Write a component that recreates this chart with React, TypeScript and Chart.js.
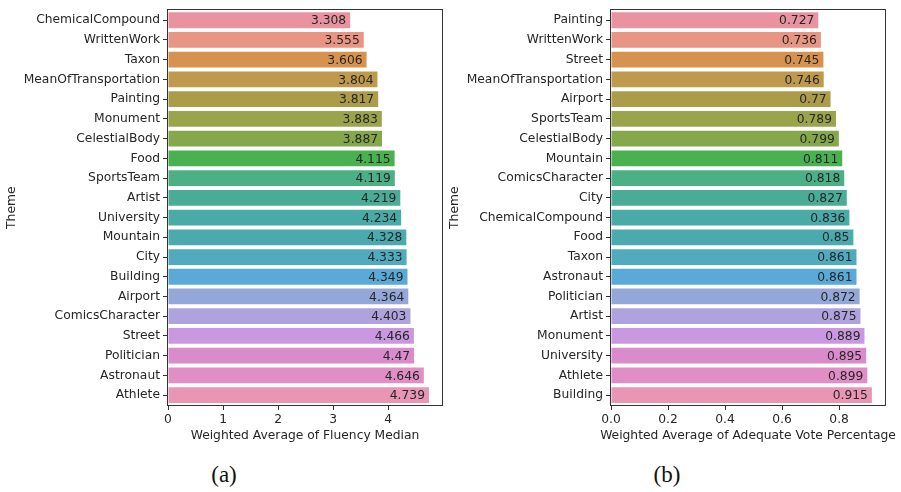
import React, { useEffect, useRef } from "react";
import { Chart, registerables } from "chart.js";

Chart.register(...registerables);

const fluencyThemes = [
  "ChemicalCompound", "WrittenWork", "Taxon", "MeanOfTransportation", "Painting",
  "Monument", "CelestialBody", "Food", "SportsTeam", "Artist",
  "University", "Mountain", "City", "Building", "Airport",
  "ComicsCharacter", "Street", "Politician", "Astronaut", "Athlete",
];
const fluencyValues = [
  3.308, 3.555, 3.606, 3.804, 3.817,
  3.883, 3.887, 4.115, 4.119, 4.219,
  4.234, 4.328, 4.333, 4.349, 4.364,
  4.403, 4.466, 4.47, 4.646, 4.739,
];
const adequateThemes = [
  "Painting", "WrittenWork", "Street", "MeanOfTransportation", "Airport",
  "SportsTeam", "CelestialBody", "Mountain", "ComicsCharacter", "City",
  "ChemicalCompound", "Food", "Taxon", "Astronaut", "Politician",
  "Artist", "Monument", "University", "Athlete", "Building",
];
const adequateValues = [
  0.727, 0.736, 0.745, 0.746, 0.77,
  0.789, 0.799, 0.811, 0.818, 0.827,
  0.836, 0.85, 0.861, 0.861, 0.872,
  0.875, 0.889, 0.895, 0.899, 0.915,
];
const fluencyTicks = [0, 1, 2, 3, 4];
const adequateTicks = [0, 0.2, 0.4, 0.6, 0.8];
const fluencyMax = 4.976;
const adequateMax = 0.961;

const barColors = [
  "#e8939f", "#e89683", "#d7934e", "#bf9a4d", "#ab9c4a",
  "#9aa44a", "#84a84b", "#4ab151", "#4bb085", "#4aab97",
  "#4aaaa5", "#4baaae", "#50abbf", "#5aa9d6", "#93a8d8",
  "#afa3dd", "#c998e0", "#d98bcc", "#e18ec6", "#e896b4",
];

const FONT = '"DejaVu Sans", sans-serif';
const FS = 12.3;
const TEXT = "#262626";

const framePlugin = {
  id: "frameAndLabels",
  afterDatasetsDraw(chart: any, _args: any, opts: any) {
    const { ctx, chartArea } = chart;
    const meta = chart.getDatasetMeta(0);
    const data = chart.data.datasets[0].data;
    ctx.save();
    ctx.font = `${FS}px ${FONT}`;
    ctx.fillStyle = TEXT;
    ctx.textAlign = "right";
    ctx.textBaseline = "middle";
    meta.data.forEach((bar: any, i: number) => {
      ctx.fillText(String(data[i]), bar.x - 4, bar.y + 1);
    });
    // x-axis title (drawn without width squeezing)
    ctx.textAlign = "center";
    ctx.fillText(opts.xTitle, (chartArea.left + chartArea.right) / 2, 436);
    ctx.strokeStyle = "#333333";
    ctx.lineWidth = 1;
    const l = Math.round(chartArea.left) - 0.5;
    const t = Math.round(chartArea.top) - 0.5;
    const r = Math.round(chartArea.right) + 0.5;
    const b = Math.round(chartArea.bottom) + 0.5;
    ctx.strokeRect(l, t, r - l, b - t);
    ctx.restore();
  },
};

function BarPanel(props: {
  labels: string[];
  values: number[];
  ticks: number[];
  max: number;
  decimals: number;
  xTitle: string;
  width: number;
  padRight: number;
}) {
  const ref = useRef<HTMLCanvasElement>(null);
  useEffect(() => {
    if (!ref.current) return;
    const chart = new Chart(ref.current, {
      type: "bar",
      data: {
        labels: props.labels,
        datasets: [
          {
            data: props.values,
            backgroundColor: barColors,
            borderWidth: 0,
            barPercentage: 0.8,
            categoryPercentage: 1.0,
          },
        ],
      },
      options: {
        indexAxis: "y",
        responsive: false,
        animation: false,
        events: [],
        layout: { padding: { left: 0, right: props.padRight, top: 6, bottom: 0 } },
        plugins: {
          legend: { display: false },
          tooltip: { enabled: false },
          frameAndLabels: { xTitle: props.xTitle },
        },
        scales: {
          x: {
            type: "linear",
            min: 0,
            max: props.max,
            afterBuildTicks: (scale: any) => {
              scale.ticks = props.ticks.map((v) => ({ value: v }));
            },
            afterFit: (scale: any) => {
              scale.height = 45;
            },
            border: { display: false },
            grid: {
              drawOnChartArea: false,
              drawTicks: true,
              tickLength: 5,
              color: "#333333",
            },
            ticks: {
              padding: 2,
              color: TEXT,
              font: { family: FONT, size: FS },
              maxRotation: 0,
              callback: (v: any) => Number(v).toFixed(props.decimals),
            },
            title: { display: false },
          },
          y: {
            type: "category",
            afterFit: (scale: any) => {
              scale.width = 168;
            },
            border: { display: false },
            grid: {
              offset: false,
              drawOnChartArea: false,
              drawTicks: true,
              tickLength: 5,
              color: "#333333",
            },
            ticks: {
              padding: 3,
              color: TEXT,
              font: { family: FONT, size: FS },
              autoSkip: false,
            },
            title: {
              display: true,
              text: "Theme",
              color: TEXT,
              font: { family: FONT, size: FS },
              padding: { top: 4, bottom: 0 },
            },
          },
        },
      },
      plugins: [framePlugin],
    } as any);
    return () => chart.destroy();
  }, []);
  return (
    <canvas
      ref={ref}
      width={props.width}
      height={450}
      style={{ width: props.width, height: 450, display: "block" }}
    />
  );
}

export default function App() {
  const caption: React.CSSProperties = {
    position: "absolute",
    top: 462,
    fontFamily: '"Liberation Serif", "DejaVu Serif", serif',
    fontSize: 23,
    lineHeight: "26px",
    color: "#111",
    transform: "translateX(-50%)",
    whiteSpace: "nowrap",
  };
  return (
    <div
      style={{
        position: "fixed",
        left: 0,
        top: 0,
        width: 901,
        height: 492,
        background: "#ffffff",
        overflow: "hidden",
      }}
    >
      <div style={{ position: "absolute", left: 0, top: 0 }}>
        <BarPanel
          labels={fluencyThemes}
          values={fluencyValues}
          ticks={fluencyTicks}
          max={fluencyMax}
          decimals={0}
          xTitle="Weighted Average of Fluency Median"
          width={450}
          padRight={8}
        />
      </div>
      <div style={{ position: "absolute", left: 443, top: 0 }}>
        <BarPanel
          labels={adequateThemes}
          values={adequateValues}
          ticks={adequateTicks}
          max={adequateMax}
          decimals={1}
          xTitle="Weighted Average of Adequate Vote Percentage"
          width={458}
          padRight={16}
        />
      </div>
      <div style={{ ...caption, left: 224 }}>(a)</div>
      <div style={{ ...caption, left: 667 }}>(b)</div>
    </div>
  );
}
